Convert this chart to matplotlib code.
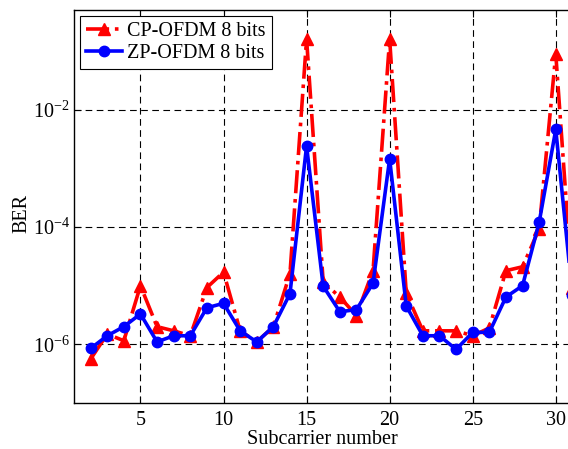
import matplotlib
matplotlib.use("Agg")
import matplotlib.pyplot as plt
from matplotlib.ticker import FixedLocator, FixedFormatter, NullLocator

plt.rcParams['font.family'] = ['Liberation Serif', 'DejaVu Serif']
plt.rcParams['mathtext.fontset'] = 'custom'
plt.rcParams['mathtext.rm'] = 'Liberation Serif'
plt.rcParams['mathtext.it'] = 'Liberation Serif:italic'

subcarriers = list(range(2, 32))
cp_ofdm = [5.6e-7, 1.5e-6, 1.15e-6, 1.0e-5, 2.0e-6, 1.7e-6, 1.4e-6, 9.3e-6, 1.7e-5,
           1.7e-6, 1.1e-6, 2.0e-6, 1.6e-5, 0.16, 1.15e-5, 6.4e-6, 3.1e-6, 1.8e-5,
           0.16, 7.4e-6, 1.7e-6, 1.7e-6, 1.7e-6, 1.4e-6, 1.9e-6, 1.8e-5, 2.1e-5,
           9.3e-5, 0.089, 9.0e-6]
zp_ofdm = [8.5e-7, 1.4e-6, 2.0e-6, 3.3e-6, 1.1e-6, 1.4e-6, 1.4e-6, 4.2e-6, 5.0e-6,
           1.7e-6, 1.1e-6, 2.0e-6, 7.3e-6, 2.4e-3, 9.8e-6, 3.6e-6, 3.9e-6, 1.1e-5,
           1.45e-3, 4.5e-6, 1.4e-6, 1.4e-6, 8.2e-7, 1.6e-6, 1.6e-6, 6.4e-6, 1.0e-5,
           1.2e-4, 4.6e-3, 7.0e-6]
xticks = [5, 10, 15, 20, 25, 30]
yticks = [1e-6, 1e-4, 1e-2]
ytick_labels = [r'$\mathregular{10^{-6}}$', r'$\mathregular{10^{-4}}$', r'$\mathregular{10^{-2}}$']

fig = plt.figure(figsize=(5.68, 4.49), dpi=100)
ax = fig.add_axes([74/568, 46/449, (589-74)/568, 393/449])

ax.plot(subcarriers, cp_ofdm, color='red', linestyle='-.', linewidth=2.6,
        marker='^', markersize=9, label='CP-OFDM 8 bits')
ax.plot(subcarriers, zp_ofdm, color='blue', linestyle='-', linewidth=2.6,
        marker='o', markersize=7.5, label='ZP-OFDM 8 bits')

ax.set_yscale('log')
ax.set_xlim(1, 32)
ax.set_ylim(1e-7, 0.5)
ax.xaxis.set_major_locator(FixedLocator(xticks))
ax.yaxis.set_major_locator(FixedLocator(yticks))
ax.yaxis.set_major_formatter(FixedFormatter(ytick_labels))
ax.yaxis.set_minor_locator(NullLocator())
ax.tick_params(axis='both', which='major', direction='in', top=True, right=True,
               length=5, width=0.8, labelsize=14.5)
ax.tick_params(axis='x', pad=6)
ax.tick_params(axis='y', pad=3)
ax.grid(True, which='major', color='black', linestyle=(0, (6, 4)), linewidth=0.8)
for s in ax.spines.values():
    s.set_linewidth(1.0)

ax.set_ylabel('BER', fontsize=14.5)
ax.yaxis.set_label_coords(-0.083, 0.483)
fig.text(322/568, 1 - 439/449, 'Subcarrier number', ha='center', va='center', fontsize=14.5)

leg = ax.legend(loc='upper left', fontsize=14.5, frameon=True, fancybox=False,
                edgecolor='black', framealpha=1, borderpad=0.3, labelspacing=0.15,
                handlelength=1.8, handletextpad=0.25, borderaxespad=0.3)
leg.get_frame().set_linewidth(0.8)

fig.savefig('out.png', dpi=100)
